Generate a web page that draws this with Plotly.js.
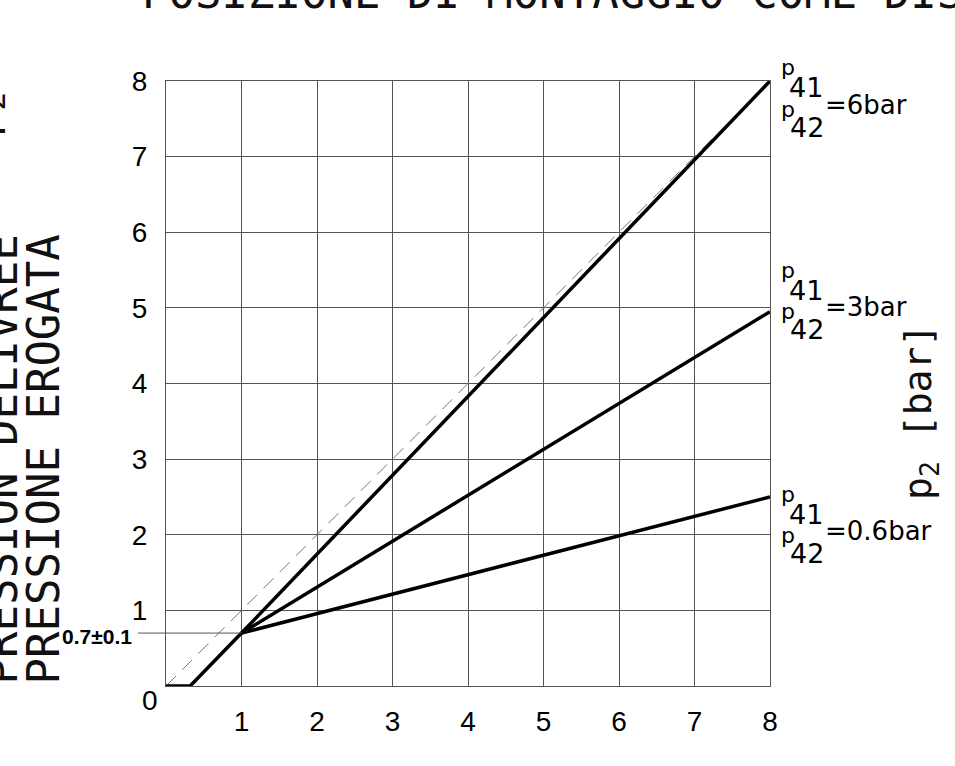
<!DOCTYPE html>
<html>
<head>
<meta charset="utf-8">
<script src="https://cdn.plot.ly/plotly-3.0.1.min.js"></script>
<style>
  html, body { margin: 0; padding: 0; background: #fff; }
  #plot { width: 955px; height: 766px; }
</style>
</head>
<body>
<div id="plot"></div>
<script>
// common start of every curve: dead band then rise to the 0.7 bar point
const inletStart = [0, 0.32, 1];
const outletStart = [0, 0, 0.7];

// one branch per p41/p42 ratio, from the 0.7 bar point to x = 8
const branchInlet = [1, 8];
const outlet6bar = [0.7, 8];
const outlet3bar = [0.7, 4.95];
const outlet06bar = [0.7, 2.5];

const ratioNames = ["6bar", "3bar", "0.6bar"];

// dashed reference p2 = p1
const refLine = [0, 8];

const tickVals = [1, 2, 3, 4, 5, 6, 7, 8];
const tickText = ["1", "2", "3", "4", "5", "6", "7", "8"];

// pixel -> paper helpers (plot area 166..770 x 81..686)
const px = X => (X - 166) / 604;
const py = Y => (686 - Y) / 605;

const thick = { color: "#000", width: 3.5 };

const traces = [
    { x: refLine, y: refLine, mode: "lines", line: { color: "#777", width: 1, dash: "14px,9px" }, hoverinfo: "skip" },
    { x: inletStart, y: outletStart, mode: "lines", line: thick },
    { x: branchInlet, y: outlet6bar, mode: "lines", line: thick },
    { x: branchInlet, y: outlet3bar, mode: "lines", line: thick },
    { x: branchInlet, y: outlet06bar, mode: "lines", line: thick }
];

const annotations = [];
function note(text, X, Y, opts) {
    annotations.push(Object.assign({
        text: text, xref: "paper", yref: "paper", x: px(X), y: py(Y),
        showarrow: false, xanchor: "center", yanchor: "middle",
        font: { family: "DejaVu Sans", size: 26, color: "#000" }
    }, opts || {}));
}

// labels at the end of each branch
const labelY = [105, 307, 531];
ratioNames.forEach((name, i) => {
    const Ye = labelY[i];
    note("p", 788, Ye - 37, { font: { family: "DejaVu Sans", size: 22, color: "#000" } });
    note("41", 806, Ye - 17, { font: { family: "DejaVu Sans", size: 27, color: "#000" } });
    note("=" + name, 823, Ye, { xanchor: "left" });
    note("p", 788, Ye + 4, { font: { family: "DejaVu Sans", size: 22, color: "#000" } });
    note("42", 807, Ye + 22, { font: { family: "DejaVu Sans", size: 27, color: "#000" } });
});

// origin label and the 0.7 bar mark
note("0", 150, 700, { font: { family: "Liberation Sans", size: 28, color: "#000" } });
note("<b>0.7±0.1</b>", 134, 636, { xanchor: "right", font: { family: "Liberation Sans Narrow, Liberation Sans", size: 21, color: "#000" } });

// clipped title at the top
note("POSIZIONE DI MONTAGGIO COME DISEGNO", 140, 20, {
    xanchor: "left", yanchor: "bottom",
    font: { family: "DejaVu Sans Mono", size: 44, color: "#111" }
});

// left vertical titles
const sideFont = { family: "DejaVu Sans Mono", size: 44, color: "#111" };
note("PRESSION DELIVREE", -27, 687, { textangle: -90, xanchor: "left", yanchor: "bottom", font: sideFont });
note("PRESSIONE EROGATA", 15, 687, { textangle: -90, xanchor: "left", yanchor: "bottom", font: sideFont });
note("p<sub>2</sub>", -16, 115, { textangle: -90, font: sideFont });

// right vertical unit
note("p<sub>2</sub> [bar]", 920, 412, {
    textangle: -90, font: { family: "DejaVu Sans Mono", size: 38, color: "#111" }
});

const layout = {
    width: 955,
    height: 766,
    margin: { l: 166, r: 185, t: 81, b: 80, pad: 0 },
    paper_bgcolor: "#fff",
    plot_bgcolor: "#fff",
    showlegend: false,
    xaxis: {
        range: [0, 8], tickvals: tickVals, ticktext: tickText,
        showgrid: true, gridcolor: "#555", gridwidth: 1,
        zeroline: false, showline: true, mirror: true, linecolor: "#555", linewidth: 1,
        ticks: "", ticklabelstandoff: 10,
        tickfont: { family: "Liberation Sans", size: 28, color: "#000" },
        fixedrange: true
    },
    yaxis: {
        range: [0, 8], tickvals: tickVals, ticktext: tickText,
        showgrid: true, gridcolor: "#555", gridwidth: 1,
        zeroline: false, showline: true, mirror: true, linecolor: "#555", linewidth: 1,
        ticks: "", ticklabelstandoff: 12,
        tickfont: { family: "Liberation Sans", size: 28, color: "#000" },
        fixedrange: true
    },
    shapes: [
        { type: "line", xref: "paper", yref: "paper", x0: px(138), x1: 1 / 8, y0: 0.7 / 8, y1: 0.7 / 8,
          line: { color: "#555", width: 1 } }
    ],
    annotations: annotations
};

Plotly.newPlot("plot", traces, layout, { displayModeBar: false, staticPlot: true });
</script>
</body>
</html>
